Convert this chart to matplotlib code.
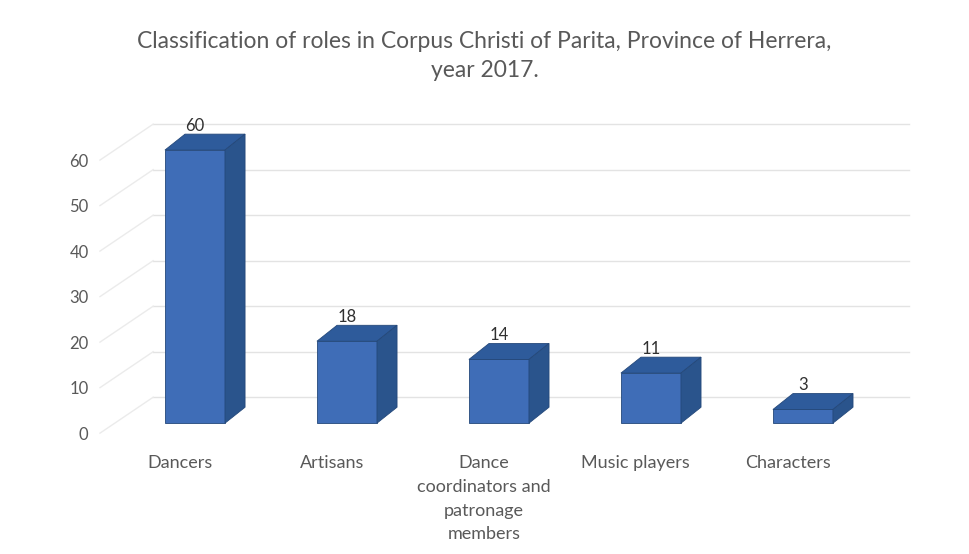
import matplotlib.pyplot as plt
from matplotlib.patches import Polygon

categories = ["Dancers", "Artisans", "Dance\ncoordinators and\npatronage\nmembers",
              "Music players", "Characters"]
values = [60, 18, 14, 11, 3]
yticks = [0, 10, 20, 30, 40, 50, 60]

front_col = '#3F6DB7'
top_col = '#2E5B9B'
side_col = '#2A548C'
edge_col = '#24487A'
text_col = '#595959'

plt.rcParams['font.family'] = ['Lato', 'DejaVu Sans']

fig = plt.figure(figsize=(9.69, 5.54), dpi=100)
ax = fig.add_axes([60 / 969, 109 / 554, 870 / 969, 345 / 554])
ax.set_xlim(-0.888, 4.836)
ax.set_ylim(-4.8, 71)
ax.axis('off')

w = 0.395        # bar width (category units)
dx, dy = 0.132, 3.5     # bar depth
bx, by = 0.25, 5.7      # back wall offset
x_left = -0.625

# back wall gridlines and side wall diagonals
for v in yticks:
    ax.plot([x_left + 0.35, 4.7], [v + by, v + by], color='#E3E3E3', lw=1, zorder=1)
    ax.plot([x_left, x_left + 0.35], [v - 2.2, v + by], color='#EBEBEB', lw=1, zorder=1)
    ax.text(-0.7, v - 2.6, str(v), ha='right', va='center', fontsize=12, color=text_col)

xs = list(range(len(values)))
ax.bar(xs, values, width=w, color=front_col, edgecolor=edge_col, linewidth=0.6, zorder=3)
for x, v in zip(xs, values):
    l, r = x - w / 2, x + w / 2
    ax.add_patch(Polygon([(l, v), (r, v), (r + dx, v + dy), (l + dx, v + dy)],
                         closed=True, facecolor=top_col, edgecolor=edge_col, lw=0.6, zorder=3))
    ax.add_patch(Polygon([(r, 0), (r + dx, dy), (r + dx, v + dy), (r, v)],
                         closed=True, facecolor=side_col, edgecolor=edge_col, lw=0.6, zorder=3))
    ax.text(x, v + 5.3, str(v), ha='center', va='center', fontsize=12, color='#303030', zorder=4)

for x, c in zip(xs, categories):
    ax.text(x - 0.1, -7.0, c, ha='center', va='top', fontsize=13, color=text_col,
            linespacing=1.6, clip_on=False)

fig.text(0.5, 1 - 56 / 554, "Classification of roles in Corpus Christi of Parita, Province of Herrera,\nyear 2017.",
         ha='center', va='center', fontsize=16.5, color=text_col, linespacing=1.45)

plt.savefig("out.png", dpi=100)
